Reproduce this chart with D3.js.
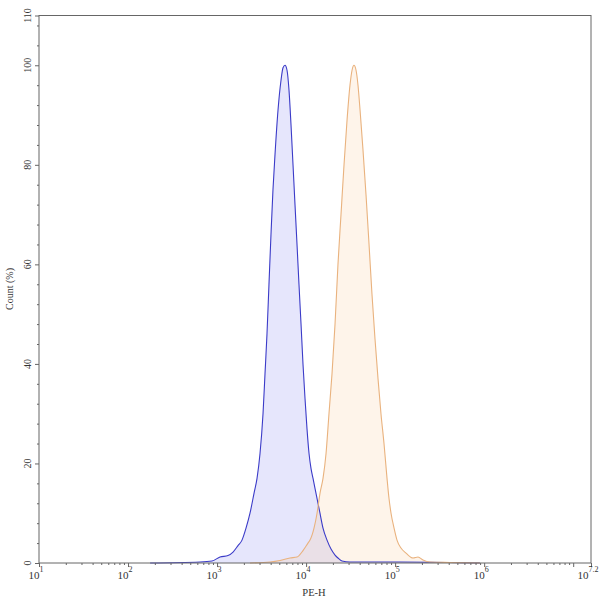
<!DOCTYPE html>
<html><head><meta charset="utf-8">
<script src="https://cdn.jsdelivr.net/npm/d3@7"></script>
<style>body{margin:0;background:#fff}svg{display:block}text{font-family:"Liberation Serif","Times New Roman",serif;fill:#333}</style>
</head><body>
<script>
// PE-H intensity and Count (%) for the two histograms
const blueX = [177,643,877,1080,1327,1511,1719,1906,2114,2344,2600,2811,3037,3282,3455,3637,3829,4033,4246,4473,4838,5227,5505,5796,6105,6427,6770,7129,7505,7907,8318,8770,9226,9727,10233,10789,11350,11967,12589,13614,14322,15488,17179,19055,21135,22803,25293,31117,113500,413000,897000];
const blueY = [0,0.2,0.4,1.2,1.5,2.2,3.5,4.6,7,10,14,17,22,30,38,46,56,66,75,82,91,97,99.5,100,99,95,88,80,72,64,56,48,40,33,27,22,19,17,15,12,10,7,4.6,2.8,1.6,1.0,0.4,0.2,0.2,0.1,0];
const orangeX = [2344,3936,5093,6597,7907,9226,10495,11066,12270,13275,14322,15488,16749,18072,19543,21135,22803,24660,26669,28840,31117,32810,34514,36390,38282,40365,43551,47098,50933,54954,59429,64269,69343,74989,81096,85310,89950,97275,104954,116413,132434,158855,180717,205589,246604,413000,897000];
const orangeY = [0,0.2,0.5,1.0,1.2,2.5,4,4.6,7,10,14,17,22,30,38,48,60,70,80,89,96,99,100,99,96,91,83,74,64,54,45,37,30,24,17,13,10,7,4.6,3,2,1.0,1.2,0.6,0.2,0.1,0];
const yTicks = [0,20,40,60,80,100,110];
const xExponents = ["1","2","3","4","5","6","7.2"];
const xLabel = "PE-H", yLabel = "Count (%)";

const W=600,H=602, L=39, R=591, T=15.5, B=563;
const svg=d3.select("body").append("svg").attr("width",W).attr("height",H);
const x=d3.scaleLog().domain([10,Math.pow(10,7.2)]).range([L,R]);
const y=d3.scaleLinear().domain([0,110]).range([B,T]);

const series=[
 {xs:blueX,ys:blueY,stroke:"#3b3bc8",fill:"rgba(140,140,240,0.22)"},
 {xs:orangeX,ys:orangeY,stroke:"#e9b27e",fill:"rgba(250,200,150,0.2)"}
];
const area=d3.area().x(d=>x(d[0])).y0(y(0)).y1(d=>y(d[1])).curve(d3.curveMonotoneX);
const line=d3.line().x(d=>x(d[0])).y(d=>y(d[1])).curve(d3.curveMonotoneX);
series.forEach(s=>{
  const pts=s.xs.map((v,i)=>[v,s.ys[i]]);
  svg.append("path").attr("d",area(pts)).attr("fill",s.fill);
});
series.forEach(s=>{
  const pts=s.xs.map((v,i)=>[v,s.ys[i]]);
  svg.append("path").attr("d",line(pts)).attr("fill","none").attr("stroke",s.stroke).attr("stroke-width",1.1);
});

// frame
svg.append("rect").attr("x",L).attr("y",T).attr("width",R-L).attr("height",B-T).attr("fill","none").attr("stroke","#666").attr("stroke-width",1);

// x ticks
const minor=[];
for(let e=1;e<=7;e++){for(let m=2;m<=9;m++){const v=m*Math.pow(10,e);if(v<Math.pow(10,7.2))minor.push(v);}}
const xAxisMinor=d3.axisBottom(x).tickValues(minor).tickSize(2).tickFormat("");
const majors=[1,2,3,4,5,6,7].map(e=>Math.pow(10,e)).concat([Math.pow(10,7.2)]);
const xAxisMajor=d3.axisBottom(x).tickValues(majors).tickSize(4).tickFormat("");
[xAxisMinor,xAxisMajor].forEach(a=>{
  const g=svg.append("g").attr("transform",`translate(0,${B})`).call(a);
  g.select(".domain").remove();
  g.selectAll("line").attr("stroke","#666");
});
xExponents.forEach(e=>{
  const t=svg.append("text").attr("x",x(Math.pow(10,+e))-3).attr("y",579).attr("text-anchor","middle").attr("font-size",11);
  t.append("tspan").text("10");
  t.append("tspan").attr("dy",-7).attr("font-size",8).text(e);
});

// y ticks
const yMinor=d3.range(0,111,4).filter(v=>v%20!==0);
const yAxisMinor=d3.axisLeft(y).tickValues(yMinor).tickSize(2).tickFormat("");
const yAxisMajor=d3.axisLeft(y).tickValues(yTicks).tickSize(4).tickFormat("");
[yAxisMinor,yAxisMajor].forEach(a=>{
  const g=svg.append("g").attr("transform",`translate(${L},0)`).call(a);
  g.select(".domain").remove();
  g.selectAll("line").attr("stroke","#666");
});
yTicks.forEach(v=>{
  svg.append("text").attr("transform",`translate(31,${y(v)}) rotate(-90)`).attr("text-anchor","middle").attr("font-size",10).text(v);
});
svg.append("text").attr("transform",`translate(13,289) rotate(-90)`).attr("text-anchor","middle").attr("font-size",10).text(yLabel);
svg.append("text").attr("x",314).attr("y",596).attr("text-anchor","middle").attr("font-size",10.5).text(xLabel);
</script>
</body></html>
